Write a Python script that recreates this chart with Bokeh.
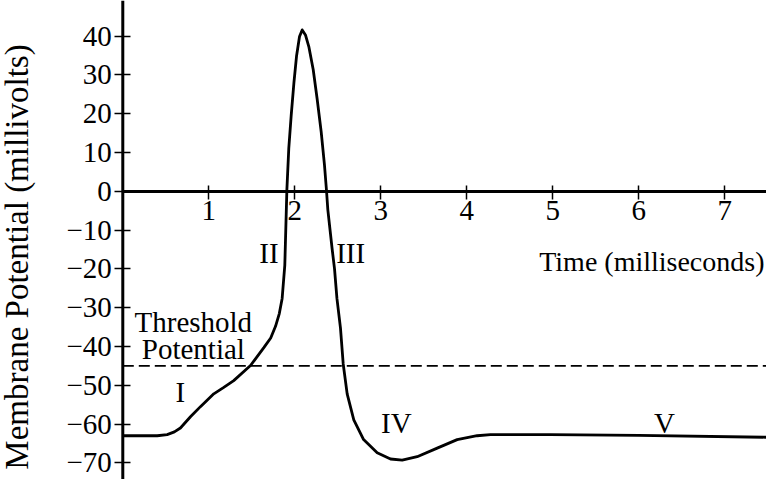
from bokeh.plotting import figure
from bokeh.models import Range1d, LinearAxis, FixedTicker, Span
from bokeh.core.properties import value
from bokeh.embed import file_html
from bokeh.resources import INLINE

# ---- data ----
t_ms = [0.0, 0.40, 0.516, 0.60, 0.67, 0.787, 0.903, 1.058, 1.17, 1.29, 1.485, 1.64,
        1.72, 1.776, 1.82, 1.853, 1.884, 1.908, 1.93, 1.958, 1.99, 2.02, 2.055, 2.086,
        2.124, 2.163, 2.214, 2.26, 2.307, 2.345, 2.368, 2.384, 2.434, 2.462, 2.49, 2.531,
        2.563, 2.609, 2.686, 2.80, 2.958, 3.113, 3.249, 3.423, 3.656, 3.888, 4.12, 4.275,
        4.97, 6.00, 7.49]
v_mv = [-63.0, -63.0, -62.7, -62.0, -61.0, -58.1, -55.5, -52.2, -50.6, -48.8, -44.9, -40.3,
        -37.8, -34.8, -31.5, -27.6, -19.0, 0.4, 11.0, 19.5, 28.0, 34.8, 39.9, 41.6,
        40.3, 37.3, 31.4, 23.8, 15.3, 6.8, 0.4, -4.7, -14.8, -20.0, -27.6, -35.2,
        -44.5, -52.2, -58.9, -64.0, -67.4, -69.0, -69.3, -68.4, -66.2, -64.0, -63.0, -62.7,
        -62.7, -62.9, -63.4]

threshold_mv = -45.0
threshold_t = [0.0, 7.53]

x_ticks = [1, 2, 3, 4, 5, 6, 7]
x_tick_labels = ["1", "2", "3", "4", "5", "6", "7"]
y_ticks = [-70, -60, -50, -40, -30, -20, -10, 0, 10, 20, 30, 40]
y_tick_labels = ["\u221270", "\u221260", "\u221250", "\u221240", "\u221230", "\u221220",
                 "\u221210", "0", "10", "20", "30", "40"]

phase_names = ["I", "II", "III", "IV", "V"]
phase_t = [0.67, 1.70, 2.65, 3.18, 6.30]
phase_v = [-51.7, -15.9, -15.9, -59.8, -59.8]

threshold_words = ["Threshold", "Potential"]
threshold_words_t = [0.82, 0.82]
threshold_words_v = [-33.8, -40.7]

x_title = "Time (milliseconds)"
x_title_t = 7.462
x_title_v = -18.2
y_title = "Membrane Potential (millivolts)"

FONT = "Liberation Serif"
X_START, X_END = -1.422, 7.485
Y_START, Y_END = -74.28, 49.18

p = figure(width=766, height=479, output_backend="svg", toolbar_location=None,
           x_range=Range1d(X_START, X_END), y_range=Range1d(Y_START, Y_END),
           x_axis_location=None, y_axis_location=None, min_border=0,
           outline_line_color=None, background_fill_color="white",
           border_fill_color="white")
p.xgrid.visible = False
p.ygrid.visible = False
for g in p.grid:
    g.visible = False
    g.grid_line_color = None

xaxis = LinearAxis(fixed_location=0, bounds=(0, X_END),
                   ticker=FixedTicker(ticks=x_ticks, minor_ticks=[]),
                   major_label_overrides=dict(zip(x_ticks, x_tick_labels)))
xaxis.axis_line_width = 3
xaxis.axis_line_color = "black"
xaxis.major_tick_in = 6
xaxis.major_tick_out = 8
xaxis.major_tick_line_width = 1.5
xaxis.major_tick_line_color = "black"
xaxis.minor_tick_line_color = None
xaxis.major_label_text_font = FONT
xaxis.major_label_text_font_size = "29px"
xaxis.major_label_text_color = "black"
xaxis.major_label_standoff = 2
p.add_layout(xaxis, "below")

# vertical axis line drawn as a span over the whole frame
p.add_layout(Span(location=0, dimension="height", line_color="black", line_width=3))

yaxis = LinearAxis(fixed_location=0, bounds=(-76.5, 40.5),
                   ticker=FixedTicker(ticks=y_ticks, minor_ticks=[]),
                   major_label_overrides=dict(zip(y_ticks, y_tick_labels)),
                   axis_label=y_title)
yaxis.axis_line_color = None
yaxis.major_tick_in = 8
yaxis.major_tick_out = 8
yaxis.major_tick_line_width = 1.5
yaxis.major_tick_line_color = "black"
yaxis.minor_tick_line_color = None
yaxis.major_label_text_font = FONT
yaxis.major_label_text_font_size = "29px"
yaxis.major_label_text_color = "black"
yaxis.major_label_standoff = 3
yaxis.axis_label_text_font = FONT
yaxis.axis_label_text_font_size = "33px"
yaxis.axis_label_text_font_style = "normal"
yaxis.axis_label_text_color = "black"
yaxis.axis_label_standoff = 28
p.add_layout(yaxis, "left")

# threshold line
p.line(threshold_t, [threshold_mv, threshold_mv], line_color="black",
       line_width=1.6, line_dash="11 5")

# action potential curve
p.line(t_ms, v_mv, line_color="black", line_width=2.8, line_join="round")

# phase labels
p.text(x=phase_t, y=phase_v, text=phase_names, text_font=value(FONT),
       text_font_size=value("29px"), text_color="black",
       text_align="center", text_baseline="alphabetic")

p.text(x=threshold_words_t, y=threshold_words_v, text=threshold_words,
       text_font=value(FONT), text_font_size=value("29px"), text_color="black",
       text_align="center", text_baseline="alphabetic")

p.text(x=[x_title_t], y=[x_title_v], text=[x_title], text_font=value(FONT),
       text_font_size=value("28px"), text_color="black",
       text_align="right", text_baseline="alphabetic")

open("out.html", "w").write(file_html(p, INLINE))
